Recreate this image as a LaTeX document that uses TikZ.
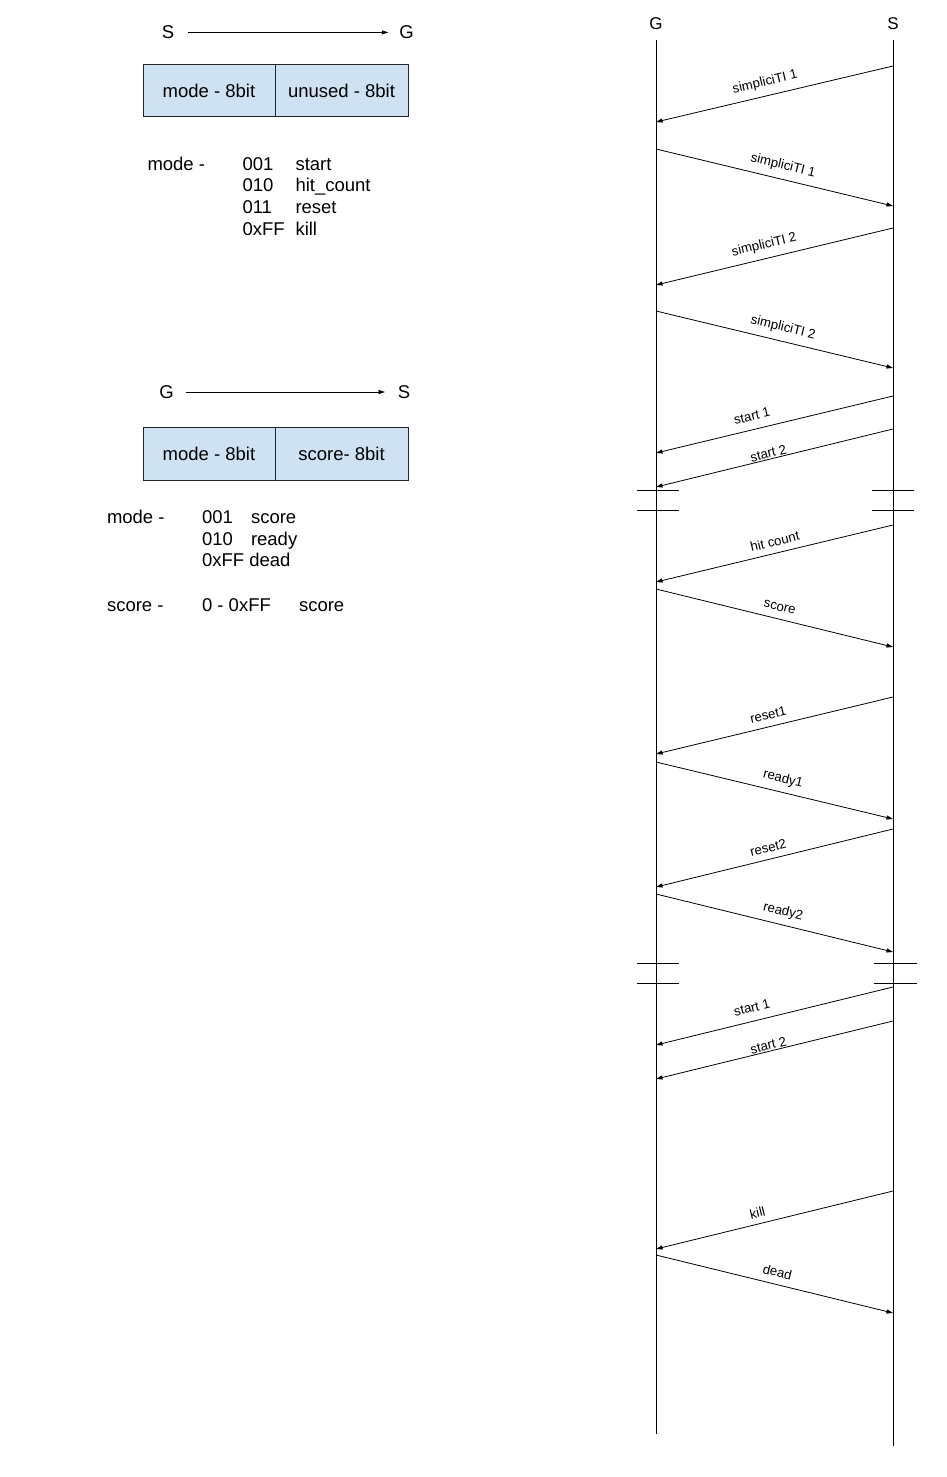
\documentclass[tikz,border=0pt]{standalone}
\usepackage{fontspec}
\setmainfont{Liberation Sans}
\usetikzlibrary{arrows.meta}
\definecolor{fieldblue}{HTML}{CFE2F3}
\begin{document}
\begin{tikzpicture}[x=1pt,y=-1pt,
  every node/.style={inner sep=0pt, outer sep=0pt},
  bigtext/.style={font=\fontsize{18.5}{22}\selectfont},
  field/.style={draw=black!85, fill=fieldblue, line width=0.8pt,
    minimum height=52.4pt, bigtext},
  listtext/.style={bigtext, anchor=base west},
  party/.style={font=\fontsize{17}{20}\selectfont},
  lifeline/.style={line width=1pt},
  msg/.style={line width=0.8pt, -{Triangle[length=6.5pt,width=4pt]}},
  msglabel/.style={font=\fontsize{13.2}{15}\selectfont, sloped, anchor=base},
  breakmark/.style={line width=0.8pt},
  ]
\useasboundingbox (0,0) rectangle (947,1477);

% ---------- packet S -> G ----------
\node[bigtext] (dirS1) at (168,32.4) {S};
\node[bigtext] (dirG1) at (406.5,32.4) {G};
\draw[msg, shorten <=13.8pt, shorten >=11pt] (dirS1) -- (dirG1);

\node[field, minimum width=132pt] (f1a) at (209,90.5) {mode - 8bit};
\node[field, minimum width=133pt] (f1b) at (341.5,90.5) {unused - 8bit};

\node[listtext] (k1)  at (147.5,170) {mode -};
\node[listtext] (c11) at (242.5,170) {001};
\node[listtext] (c12) at (242.5,191.7) {010};
\node[listtext] (c13) at (242.5,213.3) {011};
\node[listtext] (c14) at (242.5,235) {0xFF};
\node[listtext] (n11) at (295.5,170) {start};
\node[listtext] (n12) at (295.5,191.7) {hit\_count};
\node[listtext] (n13) at (295.5,213.3) {reset};
\node[listtext] (n14) at (295.5,235) {kill};

% ---------- packet G -> S ----------
\node[bigtext] (dirG2) at (166.5,392) {G};
\node[bigtext] (dirS2) at (404,392) {S};
\draw[msg, shorten <=12.3pt, shorten >=12.8pt] (dirG2) -- (dirS2);

\node[field, minimum width=132pt] (f2a) at (209,454) {mode - 8bit};
\node[field, minimum width=133pt] (f2b) at (341.5,454) {score- 8bit};

\node[listtext] (k2)  at (107,523.5) {mode -};
\node[listtext] (c21) at (202,523.5) {001};
\node[listtext] (c22) at (202,545) {010};
\node[listtext] (c23) at (202,566.7) {0xFF dead};
\node[listtext] (n21) at (251,523.5) {score};
\node[listtext] (n22) at (251,545) {ready};
\node[listtext] (k3)  at (107,611) {score -};
\node[listtext] (c31) at (202,611) {0 - 0xFF};
\node[listtext] (n31) at (299,611) {score};

% ---------- sequence: lifelines ----------
\node[party] (G) at (656,24) {G};
\node[party] (S) at (893,24) {S};
\coordinate (gTop) at (656,40);
\coordinate (gEnd) at (656,1434);
\coordinate (sTop) at (893,40);
\coordinate (sEnd) at (893,1446);
\draw[lifeline] (gTop) -- (gEnd);
\draw[lifeline] (sTop) -- (sEnd);

% ---------- sequence: messages ----------
\foreach \i/\fx/\fy/\tx/\ty/\p/\b/\t in {
  1/893/66/656/122/0.527/10pt/{simpliciTI 1},
  2/656/149/893/206/0.523/10pt/{simpliciTI 1},
  3/893/228/656/285/0.53/10pt/{simpliciTI 2},
  4/656/311/893/368/0.523/10pt/{simpliciTI 2},
  5/893/396/656/453/0.582/9pt/{start 1},
  6/893/429/656/487/0.52/1.5pt/{start 2},
  7/893/525/656/582/0.487/7pt/{hit count},
  8/656/589/893/647/0.51/8pt/{score},
  9/893/697/656/754/0.515/7.5pt/{reset1},
  10/656/762/893/819/0.523/9.5pt/{ready1},
  11/893/829/656/887/0.515/7pt/{reset2},
  12/656/894/893/952/0.523/9.5pt/{ready2},
  13/893/987/656/1045/0.582/9pt/{start 1},
  14/893/1021/656/1079/0.52/1.5pt/{start 2},
  15/893/1191/656/1249/0.561/6.5pt/{kill},
  16/656/1255/893/1313/0.5/7.5pt/{dead}} {
  \coordinate (m\i-a) at (\fx,\fy);
  \coordinate (m\i-b) at (\tx,\ty);
  \draw[msg] (m\i-a) -- node[msglabel, pos=\p, yshift=\b] {\t} (m\i-b);
}

% ---------- sequence: time breaks ----------
\foreach \j/\y/\l/\r/\sl/\sr in {1/490/637/679/872/914, 2/510/637/679/872/914,
                                 3/963/637/679/874/917, 4/983/637/679/874/917} {
  \coordinate (bg\j-a) at (\l,\y);
  \coordinate (bg\j-b) at (\r,\y);
  \coordinate (bs\j-a) at (\sl,\y);
  \coordinate (bs\j-b) at (\sr,\y);
  \draw[breakmark] (bg\j-a) -- (bg\j-b);
  \draw[breakmark] (bs\j-a) -- (bs\j-b);
}
\end{tikzpicture}
\end{document}
